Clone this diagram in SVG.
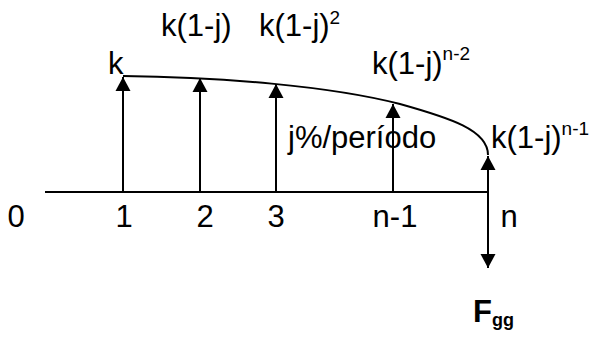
<svg xmlns="http://www.w3.org/2000/svg" width="592" height="340" viewBox="0 0 592 340">
<style>
text{font-family:"Liberation Sans",Arial,sans-serif;font-size:31px;fill:#000}
.sup{font-size:19px}
.b{font-weight:bold}
.ln{stroke:#000;stroke-width:2;fill:none}
</style>
<defs>
<marker id="ah" markerUnits="userSpaceOnUse" markerWidth="16" markerHeight="16" viewBox="0 0 14 16" refX="14" refY="8" orient="auto">
<path d="M0,0.5 L14,8 L0,15.5 Z" fill="#000"/>
</marker>
</defs>
<rect width="592" height="340" fill="#fff"/>
<g id="connectors">
<line id="axis" class="ln" x1="45" y1="192" x2="488" y2="192"/>
<path id="curve" class="ln" d="M123,76 C220,77 330,86 400,104 C450,118 488,130 488,155"/>
<line class="ln" x1="123" y1="192" x2="123" y2="77" marker-end="url(#ah)"/>
<line class="ln" x1="200" y1="192" x2="200" y2="78" marker-end="url(#ah)"/>
<line class="ln" x1="276" y1="192" x2="276" y2="84" marker-end="url(#ah)"/>
<line class="ln" x1="393" y1="192" x2="393" y2="104" marker-end="url(#ah)"/>
<line class="ln" x1="488" y1="210" x2="488" y2="156" marker-end="url(#ah)"/>
<line class="ln" x1="488" y1="192" x2="488" y2="268" marker-end="url(#ah)"/>
</g>
<g id="n0"><text x="16" y="227" text-anchor="middle">0</text></g>
<g id="n1"><text x="124" y="227" text-anchor="middle">1</text></g>
<g id="n2"><text x="205" y="227" text-anchor="middle">2</text></g>
<g id="n3"><text x="276" y="227" text-anchor="middle">3</text></g>
<g id="nn1"><text x="395" y="227" text-anchor="middle">n-1</text></g>
<g id="nn"><text x="509" y="227" text-anchor="middle">n</text></g>
<g id="lk"><text x="108" y="74">k</text></g>
<g id="lk1"><text x="161" y="36">k(1-j)</text></g>
<g id="lk2"><text x="259" y="36">k(1-j)<tspan class="sup" dy="-12">2</tspan></text></g>
<g id="lkn2"><text x="372" y="74">k(1-j)<tspan class="sup" dy="-14">n-2</tspan></text></g>
<g id="lkn1"><text x="491" y="148">k(1-j)<tspan class="sup" dy="-13">n-1</tspan></text></g>
<g id="rate"><text x="288" y="148">j%/período</text></g>
<g id="fgg"><text class="b" x="473" y="322" font-size="22">F<tspan font-size="18" dy="4">gg</tspan></text></g>
</svg>
